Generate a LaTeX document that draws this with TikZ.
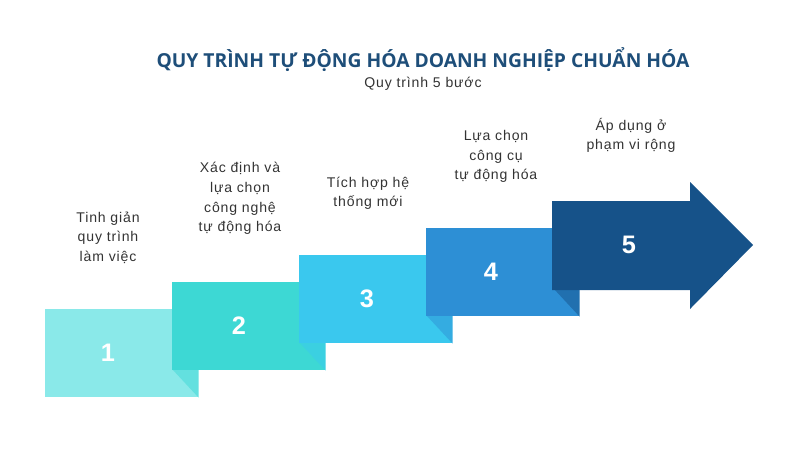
\documentclass[tikz,border=0pt]{standalone}
\usepackage{fontspec}
\setmainfont{Liberation Sans}[LetterSpace=6.0]
\newfontfamily\titlefont{Open Sans}
\usetikzlibrary{positioning,calc}

\definecolor{stepA}{HTML}{8AE9E9}
\definecolor{stepB}{HTML}{3DD8D4}
\definecolor{stepC}{HTML}{3AC8EE}
\definecolor{stepD}{HTML}{2D8FD5}
\definecolor{stepE}{HTML}{165289}
\definecolor{titleblue}{HTML}{1E4E79}
\definecolor{textgray}{HTML}{333333}

\begin{document}
\begin{tikzpicture}[
    x=0.025cm, y=-0.025cm,
    stepbox/.style={rectangle, anchor=north west, inner sep=0pt, minimum width=3.825cm, minimum height=2.2cm},
    num/.style={font=\fontsize{18}{20}\selectfont\bfseries, text=white, inner sep=0pt},
    desc/.style={align=center, anchor=south, inner sep=0pt, text=textgray, font=\fontsize{10}{14}\selectfont}
  ]
    \useasboundingbox (0,0) rectangle (800,450);

    % Tiêu đề
    \node[font=\titlefont\bfseries\fontsize{13.7}{16}\selectfont, text=titleblue] (title) at (423,60) {QUY TRÌNH TỰ ĐỘNG HÓA DOANH NGHIỆP CHUẨN HÓA};
    \node[font=\fontsize{10}{12}\selectfont, text=textgray, below=0pt of title.south, anchor=north, inner sep=0pt] (subtitle) {Quy trình 5 bước};

    % Các bậc
    \node[stepbox, fill=stepA] (s1) at (45,309) {};
    \fill[stepA!50!stepB] ($(s1.south east)+(-26,-28)$) -- ($(s1.south east)+(0,-28)$) -- (s1.south east) -- cycle;
    \node[stepbox, fill=stepB] (s2) at ($(s1.north west)+(127,-27)$) {};
    \fill[stepB!50!stepC] ($(s2.south east)+(-26,-28)$) -- ($(s2.south east)+(0,-28)$) -- (s2.south east) -- cycle;
    \node[stepbox, fill=stepC] (s3) at ($(s2.north west)+(127,-27)$) {};
    \fill[stepC!50!stepD] ($(s3.south east)+(-26,-28)$) -- ($(s3.south east)+(0,-28)$) -- (s3.south east) -- cycle;
    \node[stepbox, fill=stepD] (s4) at ($(s3.north west)+(127,-27)$) {};
    \fill[stepD!50!stepE] ($(s4.south east)+(-26,-28)$) -- ($(s4.south east)+(0,-28)$) -- (s4.south east) -- cycle;

    % Mũi tên cuối
    \coordinate (s5) at ($(s4.north west)+(126,-27)$);
    \fill[stepE] (s5) -- ++(138,0) -- ++(0,-19) -- ++(63,63) -- ++(-63,64) -- ++(0,-19) -- ++(-138,0) -- cycle;

    % Số thứ tự
    \node[num] (n1) at ($(s1.north west)+(63,44)$) {1};
    \node[num] (n2) at ($(s2.north west)+(67,44)$) {2};
    \node[num] (n3) at ($(s3.north west)+(68,44)$) {3};
    \node[num] (n4) at ($(s4.north west)+(65,44)$) {4};
    \node[num] (n5) at ($(s5)+(77,44)$) {5};

    % Mô tả
    \node[desc] (t1) at ($(s1.north west)+(63,-45)$) {Tinh giản\\quy trình\\làm việc};
    \node[desc] (t2) at ($(s2.north west)+(68,-47)$) {Xác định và\\lựa chọn\\công nghệ\\tự động hóa};
    \node[desc] (t3) at ($(s3.north west)+(69,-45)$) {Tích hợp hệ\\thống mới};
    \node[desc] (t4) at ($(s4.north west)+(70,-45)$) {Lựa chọn\\công cụ\\tự động hóa};
    \node[desc] (t5) at ($(s5)+(79,-48)$) {Áp dụng ở\\phạm vi rộng};
  \end{tikzpicture}
\end{document}
